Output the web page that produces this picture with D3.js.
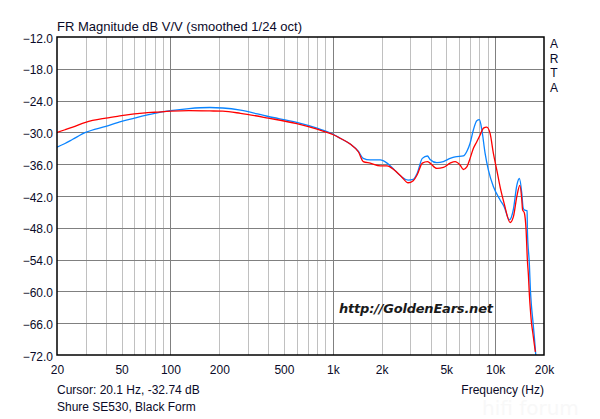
<!DOCTYPE html>
<html><head><meta charset="utf-8">
<script src="https://cdn.jsdelivr.net/npm/d3@7"></script>
<style>
body{margin:0;background:#fff;}
svg{display:block;}
text{font-family:Arial,"Liberation Sans",sans-serif;}
</style>
</head><body>
<svg id="c" width="600" height="419"></svg>
<script>
// ---- data ----
const xTickValues = [20, 50, 100, 200, 500, 1000, 2000, 5000, 10000, 20000];
const xTickLabels = ["20", "50", "100", "200", "500", "1k", "2k", "5k", "10k", "20k"];
const yTickValues = [-12, -18, -24, -30, -36, -42, -48, -54, -60, -66, -72];

const blueFreq = [20, 22.4, 25, 30, 40, 50, 60, 70, 80, 100, 130, 175, 210, 270, 400, 600, 800, 1000,
  1110, 1280, 1440, 1540, 1700, 1960, 2160, 2350, 2660, 2910, 3130, 3310, 3560, 3830, 3974, 4370, 4800,
  5280, 5670, 6370, 6690, 7010, 7350, 7710, 8000, 8280, 8670, 9090, 9750, 10730, 11360, 12240, 12960,
  13600, 14110, 14600, 14870, 15100, 15740, 15800, 16260, 16490, 16730, 17060, 17460, 17800];
const blueDb = [-32.8, -32.1, -31.3, -30.0, -28.85, -27.9, -27.3, -26.8, -26.4, -25.9, -25.5, -25.3, -25.4, -25.8, -27.0, -28.1, -29.2, -30.3,
  -31.1, -32.2, -33.6, -34.9, -35.2, -35.2, -35.8, -36.8, -38.4, -39.0, -38.85, -37.7, -34.9, -34.45, -35.1, -35.7, -35.5,
  -34.9, -34.6, -34.45, -33.6, -32.05, -29.5, -27.8, -27.6, -29.5, -33.9, -37.1, -40.2, -42.75, -44.0, -46.5, -44.5,
  -40.0, -38.7, -41.5, -44.2, -44.6, -44.8, -48.4, -55.0, -59.7, -62.6, -65.4, -68.8, -72.0];

const redFreq = [20, 22.4, 25, 30, 40, 50, 60, 70, 80, 100, 130, 175, 210, 270, 400, 600, 800, 1000,
  1110, 1280, 1440, 1540, 1700, 1960, 2160, 2350, 2660, 2910, 3130, 3310, 3560, 3830, 3974, 4370, 4800,
  5280, 5670, 6080, 6370, 6690, 7010, 7350, 7710, 8080, 8470, 8880, 9310, 9750, 10240, 10840, 11360,
  12370, 12960, 13600, 14200, 14600, 14760, 15140, 15510, 15800, 16030, 16260, 16490, 16730, 17060, 17560, 17700];
const redDb = [-30.0, -29.5, -29.0, -28.1, -27.3, -26.85, -26.5, -26.3, -26.2, -26.0, -25.9, -25.95, -26.0, -26.4, -27.3, -28.35, -29.4, -30.4,
  -31.1, -32.2, -33.7, -35.5, -35.8, -36.3, -36.3, -36.9, -38.4, -39.5, -39.1, -38.0, -35.8, -35.5, -35.8, -36.8, -36.6,
  -35.8, -35.5, -36.15, -37.0, -36.5, -34.9, -33.0, -31.75, -30.5, -29.2, -29.0, -30.2, -33.9, -37.1, -40.9, -43.4,
  -47.0, -45.9, -42.1, -40.0, -42.75, -44.6, -45.2, -48.4, -54.1, -56.9, -60.7, -63.5, -65.8, -67.8, -70.7, -71.4];

// ---- layout ----
const L = 57, R = 544, T = 37, B = 355;
const svg = d3.select("#c");
const x = d3.scaleLog().domain([20, 20000]).range([L, R]);
const y = d3.scaleLinear().domain([-72, -12]).range([B, T]);
const ink = "#0a0a28";

// grid: vertical
const minor = [], major = [100, 1000, 10000];
[10, 100, 1000, 10000].forEach(d => { for (let m = 1; m <= 9; m++) { const f = m * d; if (f > 20 && f < 20000 && !major.includes(f)) minor.push(f); } });
svg.append("g").selectAll("line").data(minor).join("line")
  .attr("x1", d => Math.round(x(d)) + 0.5).attr("x2", d => Math.round(x(d)) + 0.5)
  .attr("y1", T).attr("y2", B).attr("stroke", "#c0c0c0").attr("stroke-width", 1);
svg.append("g").selectAll("line").data(major).join("line")
  .attr("x1", d => Math.round(x(d)) + 0.5).attr("x2", d => Math.round(x(d)) + 0.5)
  .attr("y1", T).attr("y2", B).attr("stroke", "#808080").attr("stroke-width", 1);
// grid: horizontal
svg.append("g").selectAll("line").data(yTickValues.slice(1, -1)).join("line")
  .attr("x1", L).attr("x2", R)
  .attr("y1", d => Math.round(y(d)) + 0.5).attr("y2", d => Math.round(y(d)) + 0.5)
  .attr("stroke", "#808080").attr("stroke-width", 1);

// curves
svg.append("clipPath").attr("id", "clip").append("rect")
  .attr("x", L).attr("y", T).attr("width", R - L).attr("height", B - T);
const line = d3.line().x(d => x(d[0])).y(d => y(d[1])).curve(d3.curveMonotoneX);
const blue = blueFreq.map((f, i) => [f, blueDb[i]]);
const red = redFreq.map((f, i) => [f, redDb[i]]);
const cg = svg.append("g").attr("clip-path", "url(#clip)");
cg.append("path").datum(blue).attr("d", line).attr("fill", "none")
  .attr("stroke", "#0a84ff").attr("stroke-width", 1.3);
cg.append("path").datum(red).attr("d", line).attr("fill", "none")
  .attr("stroke", "#ff0000").attr("stroke-width", 1.3);

// frame
svg.append("rect").attr("x", L).attr("y", T).attr("width", R - L).attr("height", B - T)
  .attr("fill", "none").attr("stroke", "#000").attr("stroke-width", 1.5);

// axes labels via d3 axes (domain/ticks hidden, labels only)
const xAxis = d3.axisBottom(x).tickValues(xTickValues)
  .tickFormat((d, i) => xTickLabels[i]).tickSize(0).tickPadding(0);
const gx = svg.append("g").attr("transform", `translate(0,${B})`).call(xAxis);
gx.select(".domain").remove();
gx.selectAll("text").attr("dy", null).attr("y", 19)
  .attr("font-size", 12).attr("font-family", "Arial, 'Liberation Sans', sans-serif").attr("fill", ink);

const yAxis = d3.axisLeft(y).tickValues(yTickValues).tickFormat(d3.format(".1f")).tickSize(0).tickPadding(0);
const gy = svg.append("g").attr("transform", `translate(${L - 4},0)`).call(yAxis);
gy.select(".domain").remove();
gy.selectAll("text").attr("dy", null).attr("y", 5)
  .attr("font-size", 12).attr("font-family", "Arial, 'Liberation Sans', sans-serif").attr("fill", ink);

// texts
svg.append("text").attr("x", 57).attr("y", 31).attr("font-size", 13).attr("fill", ink)
  .text("FR Magnitude dB V/V (smoothed 1/24 oct)");
["A", "R", "T", "A"].forEach((c, i) => {
  svg.append("text").attr("x", 554).attr("y", 48.3 + i * 14.5).attr("text-anchor", "middle")
    .attr("font-size", 12).attr("fill", ink).text(c);
});
svg.append("text").attr("x", 57).attr("y", 394).attr("font-size", 12).attr("fill", ink)
  .text("Cursor: 20.1 Hz, -32.74 dB");
svg.append("text").attr("x", 57).attr("y", 411).attr("font-size", 12).attr("fill", ink)
  .text("Shure SE530, Black Form");
svg.append("text").attr("x", 544).attr("y", 394).attr("font-size", 12).attr("text-anchor", "end").attr("fill", ink)
  .text("Frequency (Hz)");
svg.append("text").attr("x", 482).attr("y", 415).attr("font-size", 20).attr("fill", "#f8f8f8")
  .style("font-family", "'DejaVu Sans', sans-serif").text("hifi forum");
svg.append("text").attr("x", 339).attr("y", 313).attr("font-size", 13)
  .style("font-family", "'DejaVu Sans', Verdana, sans-serif")
  .attr("font-weight", "bold").attr("font-style", "italic").attr("fill", "#1a1a1a")
  .attr("textLength", 154).attr("lengthAdjust", "spacing")
  .text("http://GoldenEars.net");
</script>
</body></html>
